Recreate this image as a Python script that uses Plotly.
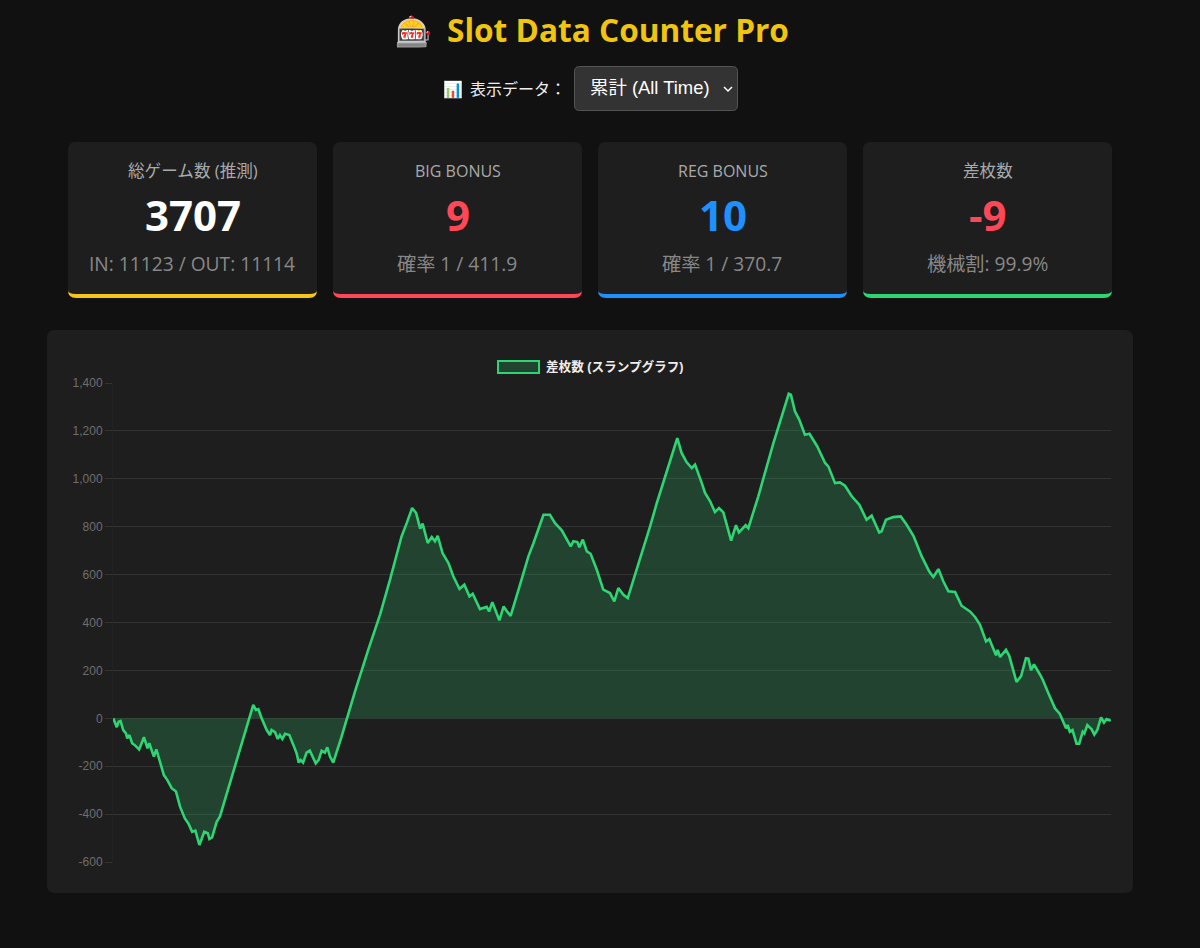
import plotly.graph_objects as go

W = 1200
H = 948

games = [1,14,21,28,38,48,53,61,71,80,97,106,115,128,135,141,152,161,172,189,202,218,234,249,267,280,294,306,321,339,352,358,368,385,397,
         521,531,540,552,571,583,589,602,612,620,629,639,655,670,682,690,697,706,719,731,741,753,764,775,787,796,806,818,849,868,899,948,992,
         1029,1072,1091,1111,1126,1141,1150,1169,1184,1196,1206,1224,1246,1264,1287,1305,1324,1336,1363,1388,1397,1409,1435,1451,1465,1477,
         1512,1543,1561,1599,1623,1642,1667,1691,1700,1710,1725,1732,1745,1760,1774,1797,1821,1846,1862,1877,1896,1912,1945,1995,2020,2050,2096,
         2112,2131,2150,2162,2187,2199,2218,2236,2251,2267,2296,2314,2325,2350,2360,2397,2453,2510,2518,2533,2549,2570,2587,2616,2645,2657,
         2682,2700,2719,2744,2772,2799,2818,2846,2855,2871,2898,2926,2948,2973,3004,3032,3047,3066,3084,3103,3128,3152,3183,3202,3220,3243,3255,
         3280,3286,3295,3317,3329,3356,3373,3391,3400,3410,3421,3443,3453,3474,3499,3517,3540,3546,3554,3564,3579,3589,3602,3608,3619,3635,3645,
         3656,3670,3681,3691,3706]
diff = [0,-37,-14,-11,-49,-63,-84,-70,-104,-111,-130,-104,-79,-125,-104,-125,-160,-130,-174,-237,-258,-292,-306,-369,-418,-439,-474,-469,-529,-474,-480,-504,-497,-432,-411,
        56,35,38,0,-49,-70,-49,-58,-86,-70,-86,-65,-70,-111,-146,-185,-174,-185,-143,-135,-160,-188,-174,-135,-143,-121,-160,-185,-77,-4,112,286,433,
        579,760,815,878,857,792,813,732,757,739,762,690,648,593,540,558,509,520,456,465,446,485,409,467,444,428,
        558,676,729,850,850,815,785,732,718,739,736,714,746,697,687,620,537,523,488,544,516,502,620,801,899,1010,1170,
        1108,1069,1045,1059,982,941,906,861,878,860,742,806,776,806,794,927,1149,1355,1351,1282,1247,1184,1188,1135,1066,1052,
        982,985,971,927,892,829,846,776,781,829,840,843,808,762,676,613,590,623,572,530,527,470,446,423,391,321,331,
        263,286,256,286,261,152,176,251,249,201,225,183,162,106,42,18,-42,-28,-56,-49,-106,-106,-56,-63,-28,-46,-68,
        -49,4,-18,-3,-11]

y_ticks = [-600,-400,-200,0,200,400,600,800,1000,1200,1400]
y_labels = ["-600","-400","-200","0","200","400","600","800","1,000","1,200","1,400"]

card_titles = ["総ゲーム数 (推測)","BIG BONUS","REG BONUS","差枚数"]
card_title_sizes = [16.6,16,16,16.6]
card_values = ["3707","9","10","-9"]
card_subs = ["IN: 11123 / OUT: 11114","確率 1 / 411.9","確率 1 / 370.7","機械割: 99.9%"]
card_colors = ["#ffffff","#ff4757","#1e90ff","#ff4757"]
card_borders = ["#f5c518","#ff4757","#1e90ff","#2ed573"]
card_left = [68,333,598,863]

SANS = "'Open Sans','Noto Sans CJK JP',sans-serif"
ARIAL = "'Liberation Sans','Noto Sans CJK JP',sans-serif"

def fx(x):
    return x / W

def fy(y):
    return 1 - y / H

def p(x, y):
    return f"{fx(x):.5f},{fy(y):.5f}"

def rounded(x0, y0, x1, y1, r=8):
    return (f"M {p(x0+r,y0)} L {p(x1-r,y0)} Q {p(x1,y0)} {p(x1,y0+r)} L {p(x1,y1-r)} Q {p(x1,y1)} {p(x1-r,y1)} "
            f"L {p(x0+r,y1)} Q {p(x0,y1)} {p(x0,y1-r)} L {p(x0,y0+r)} Q {p(x0,y0)} {p(x0+r,y0)} Z")

def box(path, fill, line=None, width=0):
    return dict(type="path", path=path, xref="paper", yref="paper", fillcolor=fill,
                line=dict(color=line or fill, width=width), layer="below")

def label(x, y, text, size, color, bold=False, family=SANS, anchor="center"):
    if bold:
        text = f"<b>{text}</b>"
    return dict(x=fx(x), y=fy(y), xref="paper", yref="paper", text=text, showarrow=False,
                xanchor=anchor, yanchor="middle", font=dict(size=size, color=color, family=family))

shapes = []
notes = []

# panels
shapes.append(box(rounded(47, 330, 1133, 893), "#1e1e1e"))
for i in range(4):
    x0 = card_left[i]
    x1 = x0 + 249
    shapes.append(box(rounded(x0, 142, x1, 298), "#1e1e1e"))
    edge = (f"M {p(x0,290)} Q {p(x0,298)} {p(x0+8,298)} L {p(x1-8,298)} Q {p(x1,298)} {p(x1,290)} "
            f"Q {p(x1,294)} {p(x1-8,294)} L {p(x0+8,294)} Q {p(x0,294)} {p(x0,290)} Z")
    shapes.append(box(edge, card_borders[i]))
    cx = x0 + 124.5
    notes.append(label(cx, 171, card_titles[i], card_title_sizes[i], "#aaaaaa"))
    notes.append(label(cx, 215, card_values[i], 42, card_colors[i], bold=True))
    notes.append(label(cx - 0.5, 263, card_subs[i], 19.2, "#888888"))

# header
notes.append(label(618, 30, "Slot Data Counter Pro", 31.6, "#f1c40f", bold=True))
notes.append(label(414, 31, "🎰", 30, "#ffffff"))
notes.append(label(453, 89, "📊", 16, "#ffffff"))
notes.append(label(518, 89, "表示データ：", 16, "#eeeeee"))
shapes.append(box(rounded(574.5, 66.5, 737.5, 110.5, 5), "#333333", "#555555", 1))
notes.append(label(650, 88, "累計 (All Time)", 18.4, "#ffffff", family=ARIAL))
shapes.append(dict(type="path", path=f"M {p(724,87)} L {p(728,91)} L {p(732,87)}", xref="paper", yref="paper",
                   line=dict(color="#ffffff", width=1.5)))

# legend box of the chart
shapes.append(box(f"M {p(498,361)} L {p(539,361)} L {p(539,373)} L {p(498,373)} Z",
                  "rgba(46,213,115,0.2)", "#2ed573", 2))
notes.append(label(544, 366, "差枚数 (スランプグラフ)", 12.6, "#eeeeee", bold=True, family=ARIAL, anchor="left"))

fig = go.Figure()
fig.add_trace(go.Scatter(x=games, y=diff, mode="lines", fill="tozeroy",
                         fillcolor="rgba(46,213,115,0.2)",
                         line=dict(color="#2ed573", width=2.6)))

fig.update_layout(
    template="none",
    width=W, height=H, autosize=False,
    margin=dict(l=0, r=0, t=0, b=0, pad=0),
    paper_bgcolor="#111111", plot_bgcolor="rgba(0,0,0,0)",
    showlegend=False, hovermode=False,
    shapes=shapes, annotations=notes,
    xaxis=dict(domain=[fx(113), fx(1111)], range=[0, 3707], showticklabels=False, showgrid=False,
               zeroline=False, ticks="", automargin=False),
    yaxis=dict(domain=[fy(862), fy(383)], range=[-600, 1400], tickvals=y_ticks, ticktext=y_labels,
               gridcolor="#333333", gridwidth=1, zeroline=False, ticks="outside", ticklen=7,
               tickcolor="#333333", showline=True, linecolor="#232323", linewidth=1, automargin=False,
               tickfont=dict(family=ARIAL, size=12, color="#6e6e6e")),
)

fig.write_html("out.html", config={"displayModeBar": False},
               post_script="document.body.style.margin='0';document.body.style.background='#111111';document.body.style.overflow='hidden';")
